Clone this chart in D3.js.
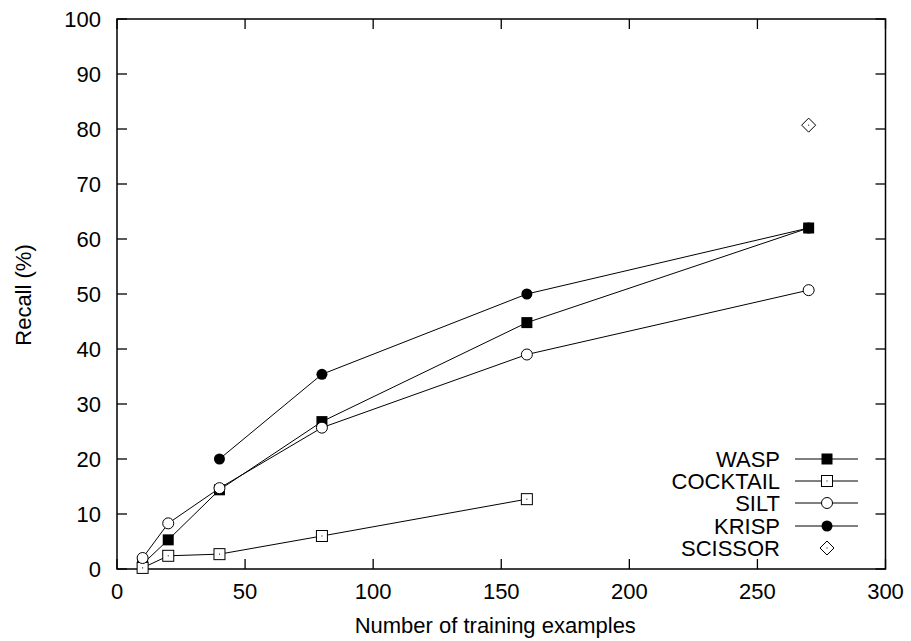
<!DOCTYPE html>
<html><head><meta charset="utf-8">
<script src="https://cdn.jsdelivr.net/npm/d3@7/dist/d3.min.js"></script>
<style>body{margin:0;background:#fff}text{font-family:"Liberation Sans",Arial,Helvetica,sans-serif}</style>
</head><body>
<svg id="c" width="911" height="641"></svg>
<script>
const xTicks = [0, 50, 100, 150, 200, 250, 300];
const yTicks = [0, 10, 20, 30, 40, 50, 60, 70, 80, 90, 100];
const seriesNames = ["WASP", "COCKTAIL", "SILT", "KRISP", "SCISSOR"];
const waspX = [10, 20, 40, 80, 160, 270];
const waspY = [0.9, 5.3, 14.4, 26.8, 44.8, 62.0];
const cocktailX = [10, 20, 40, 80, 160];
const cocktailY = [0.2, 2.4, 2.7, 6.0, 12.7];
const siltX = [10, 20, 40, 80, 160, 270];
const siltY = [2.0, 8.3, 14.7, 25.7, 39.0, 50.7];
const krispX = [40, 80, 160, 270];
const krispY = [20.0, 35.4, 50.0, 62.0];
const scissorX = [270];
const scissorY = [80.7];

const svg = d3.select("#c");
const L = 117, R = 885.5, T = 19, B = 569;
const x = d3.scaleLinear().domain([0, 300]).range([L, R]);
const y = d3.scaleLinear().domain([0, 100]).range([B, T]);
const fs = 22;

const series = [
  {name: seriesNames[0], xs: waspX, ys: waspY, mark: "fsquare", line: true},
  {name: seriesNames[1], xs: cocktailX, ys: cocktailY, mark: "osquare", line: true},
  {name: seriesNames[2], xs: siltX, ys: siltY, mark: "ocircle", line: true},
  {name: seriesNames[3], xs: krispX, ys: krispY, mark: "fcircle", line: true},
  {name: seriesNames[4], xs: scissorX, ys: scissorY, mark: "diamond", line: false}
];

// ticks (inward, mirrored)
const tk = 10;
const g = svg.append("g").attr("stroke", "#000").attr("stroke-width", 1.3);
xTicks.forEach(v => {
  g.append("line").attr("x1", x(v)).attr("x2", x(v)).attr("y1", B).attr("y2", B - tk);
  g.append("line").attr("x1", x(v)).attr("x2", x(v)).attr("y1", T).attr("y2", T + tk);
});
yTicks.forEach(v => {
  g.append("line").attr("x1", L).attr("x2", L + tk).attr("y1", y(v)).attr("y2", y(v));
  g.append("line").attr("x1", R).attr("x2", R - tk).attr("y1", y(v)).attr("y2", y(v));
});
svg.append("rect").attr("x", L).attr("y", T).attr("width", R - L).attr("height", B - T)
  .attr("fill", "none").attr("stroke", "#000").attr("stroke-width", 1.5);

svg.append("g").selectAll("text").data(xTicks).join("text")
  .attr("x", d => x(d)).attr("y", 599).attr("text-anchor", "middle")
  .attr("font-size", fs).text(d => d);
svg.append("g").selectAll("text").data(yTicks).join("text")
  .attr("x", 101).attr("y", d => y(d) + 8).attr("text-anchor", "end")
  .attr("font-size", fs).text(d => d);

svg.append("text").attr("x", (L + R) / 2 - 6).attr("y", 633).attr("text-anchor", "middle")
  .attr("font-size", fs).text("Number of training examples");
svg.append("text").attr("transform", "translate(31,295) rotate(-90)").attr("text-anchor", "middle")
  .attr("font-size", fs).text("Recall (%)");

function drawMark(sel, type, cx, cy) {
  if (type === "fsquare") {
    sel.append("rect").attr("x", cx - 5.5).attr("y", cy - 5.5).attr("width", 11).attr("height", 11).attr("fill", "#000");
  } else if (type === "osquare") {
    sel.append("rect").attr("x", cx - 5.5).attr("y", cy - 5.5).attr("width", 11).attr("height", 11)
      .attr("fill", "#fff").attr("stroke", "#000").attr("stroke-width", 1);
    sel.append("rect").attr("x", cx - 0.5).attr("y", cy - 0.5).attr("width", 1).attr("height", 1).attr("fill", "#000");
  } else if (type === "ocircle") {
    sel.append("circle").attr("cx", cx).attr("cy", cy).attr("r", 5.5).attr("fill", "#fff").attr("stroke", "#000").attr("stroke-width", 1);
  } else if (type === "fcircle") {
    sel.append("circle").attr("cx", cx).attr("cy", cy).attr("r", 5.5).attr("fill", "#000");
  } else if (type === "diamond") {
    sel.append("path").attr("d", `M${cx},${cy - 7}L${cx + 7},${cy}L${cx},${cy + 7}L${cx - 7},${cy}Z`)
      .attr("fill", "#fff").attr("stroke", "#000").attr("stroke-width", 1);
    sel.append("rect").attr("x", cx - 0.5).attr("y", cy - 0.5).attr("width", 1).attr("height", 1).attr("fill", "#000");
  }
}

const line = d3.line().x(d => x(d[0])).y(d => y(d[1]));
series.forEach(s => {
  const pts = s.xs.map((v, i) => [v, s.ys[i]]);
  const sg = svg.append("g");
  if (s.line) sg.append("path").attr("d", line(pts)).attr("fill", "none").attr("stroke", "#000").attr("stroke-width", 1);
  pts.forEach(p => drawMark(sg, s.mark, x(p[0]), y(p[1])));
});

// legend
const legY = [459, 481, 503, 526, 548];
series.forEach((s, i) => {
  const lg = svg.append("g");
  lg.append("text").attr("x", 780).attr("y", legY[i] + 8).attr("text-anchor", "end").attr("font-size", fs).text(s.name);
  if (s.line) lg.append("line").attr("x1", 795).attr("x2", 858).attr("y1", legY[i]).attr("y2", legY[i]).attr("stroke", "#000").attr("stroke-width", 1);
  drawMark(lg, s.mark, 827, legY[i]);
});
</script>
</body></html>
